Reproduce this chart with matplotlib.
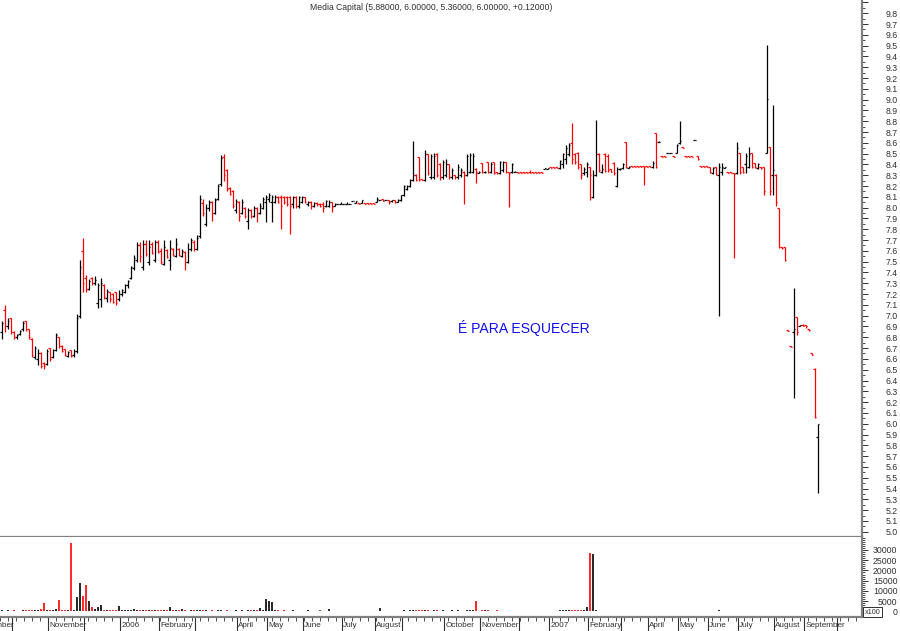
import matplotlib
matplotlib.use("Agg")
import matplotlib.pyplot as plt
import numpy as np
from matplotlib.ticker import FixedLocator, FuncFormatter

plt.rcParams["font.family"] = ["Liberation Sans", "DejaVu Sans"]

TITLE = "Media Capital (5.88000, 6.00000, 5.36000, 6.00000, +0.12000)"
NOTE = "É PARA ESQUECER"

# one bar per slot, Sep 2005 .. Sep 2007 (rows of 10)
OPENS = [
    6.85, 7.05, 6.90, 6.98, 6.85, 6.80, 6.83, 6.88, 6.95, 6.88,
    6.78, 6.62, 6.60, 6.65, 6.56, 6.55, 6.70, 6.62, 6.68, 6.80,
    6.72, 6.69, 6.63, 6.68, 6.64, 6.67, 7.00, 7.60, 7.35, 7.25,
    7.35, 7.30, 7.12, 7.15, 7.28, 7.16, 7.22, 7.20, 7.22, 7.15,
    7.20, 7.22, 7.28, 7.35, 7.44, 7.52, 7.65, 7.45, 7.66, 7.50,
    7.66, 7.52, 7.68, 7.60, 7.48, 7.61, 7.52, 7.62, 7.55, 7.62,
    7.55, 7.59, 7.50, 7.62, 7.68, 7.62, 7.74, 8.04, 7.85, 8.00,
    8.05, 7.95, 8.08, 8.22, 8.47, 8.35, 8.18, 8.15, 7.98, 8.05,
    7.95, 8.00, 7.88, 7.98, 7.92, 8.00, 7.95, 8.00, 8.05, 8.08,
    8.05, 8.05, 8.10, 8.10, 8.10, 8.10, 8.10, 8.03, 8.10, 8.02,
    8.05, 8.10, 8.03, 8.05, 8.02, 8.04, 8.03, 8.03, 8.02, 8.02,
    8.05, 8.02, 8.03, 8.03, 8.03, 8.03, 8.03, 8.06, 8.04, 8.04,
    8.04, 8.04, 8.04, 8.04, 8.04, 8.05, 8.07, 8.08, 8.07, 8.07,
    8.06, 8.07, 8.05, 8.07, 8.12, 8.17, 8.20, 8.26, 8.30, 8.47,
    8.27, 8.26, 8.50, 8.28, 8.28, 8.50, 8.40, 8.28, 8.30, 8.40,
    8.28, 8.30, 8.28, 8.30, 8.33, 8.30, 8.33, 8.33, 8.36, 8.32,
    8.41, 8.33, 8.42, 8.33, 8.42, 8.33, 8.32, 8.35, 8.42, 8.33,
    8.33, 8.33, 8.33, 8.33, 8.33, 8.33, 8.33, 8.33, 8.33, 8.33,
    8.33, 8.36, 8.36, 8.38, 8.38, 8.38, 8.37, 8.40, 8.45, 8.50,
    8.60, 8.50, 8.51, 8.40, 8.32, 8.33, 8.38, 8.10, 8.30, 8.50,
    8.33, 8.50, 8.48, 8.36, 8.41, 8.20, 8.36, 8.37, 8.61, 8.37,
    8.39, 8.39, 8.39, 8.39, 8.39, 8.39, 8.39, 8.38, 8.69, 8.61,
    8.48, 8.48, 8.51, 8.51, 8.48, 8.51, 8.60, 8.56, 8.48, 8.48,
    8.48, 8.63, 8.48, 8.39, 8.39, 8.39, 8.38, 8.32, 8.38, 8.30,
    8.33, 8.37, 8.33, 8.33, 8.32, 8.32, 8.51, 8.38, 8.40, 8.38,
    8.51, 8.41, 8.37, 8.38, 8.38, 8.51, 8.56, 8.30, 8.30, 8.00,
    7.64, 7.64, 6.87, 6.72, 6.85, 6.99, 6.90, 6.91, 6.91, 6.88,
    6.65, 6.51, 5.88,
]
HIGHS = [
    6.95, 7.10, 6.98, 6.98, 6.86, 6.83, 6.87, 6.95, 6.95, 6.88,
    6.79, 6.72, 6.69, 6.66, 6.57, 6.69, 6.70, 6.69, 6.84, 6.80,
    6.73, 6.69, 6.67, 6.68, 6.69, 7.02, 7.52, 7.72, 7.38, 7.34,
    7.36, 7.37, 7.30, 7.35, 7.29, 7.25, 7.22, 7.21, 7.22, 7.24,
    7.25, 7.29, 7.33, 7.46, 7.56, 7.68, 7.68, 7.70, 7.70, 7.70,
    7.68, 7.70, 7.70, 7.63, 7.70, 7.62, 7.70, 7.63, 7.72, 7.63,
    7.62, 7.60, 7.67, 7.72, 7.70, 7.75, 8.12, 8.08, 8.03, 8.07,
    8.06, 8.09, 8.22, 8.49, 8.50, 8.36, 8.19, 8.16, 8.08, 8.06,
    8.08, 8.01, 8.00, 7.99, 8.02, 8.01, 8.04, 8.10, 8.12, 8.14,
    8.12, 8.12, 8.11, 8.12, 8.11, 8.11, 8.11, 8.11, 8.11, 8.11,
    8.11, 8.10, 8.06, 8.06, 8.05, 8.05, 8.04, 8.05, 8.07, 8.07,
    8.05, 8.04, 8.03, 8.05, 8.03, 8.05, 8.03, 8.06, 8.06, 8.04,
    8.07, 8.04, 8.04, 8.04, 8.04, 8.10, 8.07, 8.08, 8.07, 8.07,
    8.07, 8.07, 8.08, 8.12, 8.21, 8.21, 8.27, 8.62, 8.31, 8.47,
    8.27, 8.53, 8.50, 8.50, 8.51, 8.51, 8.41, 8.44, 8.45, 8.40,
    8.37, 8.30, 8.40, 8.37, 8.34, 8.50, 8.51, 8.51, 8.37, 8.34,
    8.41, 8.34, 8.42, 8.42, 8.42, 8.33, 8.43, 8.43, 8.42, 8.33,
    8.41, 8.34, 8.33, 8.33, 8.33, 8.33, 8.35, 8.33, 8.33, 8.33,
    8.33, 8.37, 8.37, 8.38, 8.38, 8.38, 8.44, 8.51, 8.58, 8.60,
    8.78, 8.51, 8.52, 8.40, 8.38, 8.42, 8.38, 8.35, 8.81, 8.51,
    8.40, 8.51, 8.50, 8.36, 8.42, 8.38, 8.37, 8.41, 8.61, 8.39,
    8.39, 8.39, 8.39, 8.39, 8.39, 8.39, 8.39, 8.43, 8.69, 8.62,
    8.48, 8.48, 8.51, 8.51, 8.48, 8.59, 8.80, 8.56, 8.48, 8.48,
    8.48, 8.63, 8.48, 8.39, 8.39, 8.39, 8.38, 8.38, 8.38, 8.41,
    8.41, 8.38, 8.33, 8.33, 8.32, 8.61, 8.51, 8.38, 8.51, 8.56,
    8.51, 8.41, 8.41, 8.38, 8.38, 9.51, 8.56, 8.95, 8.31, 8.00,
    7.64, 7.64, 6.87, 6.72, 7.26, 6.99, 6.91, 6.92, 6.91, 6.88,
    6.65, 6.52, 6.00,
]
LOWS = [
    6.78, 6.85, 6.88, 6.83, 6.78, 6.78, 6.82, 6.86, 6.86, 6.78,
    6.62, 6.60, 6.54, 6.52, 6.51, 6.54, 6.58, 6.61, 6.67, 6.70,
    6.66, 6.63, 6.62, 6.62, 6.62, 6.65, 6.98, 7.22, 7.22, 7.24,
    7.28, 7.28, 7.07, 7.08, 7.15, 7.13, 7.13, 7.12, 7.10, 7.14,
    7.18, 7.21, 7.26, 7.34, 7.42, 7.50, 7.50, 7.42, 7.55, 7.47,
    7.57, 7.50, 7.58, 7.48, 7.47, 7.53, 7.42, 7.55, 7.54, 7.55,
    7.54, 7.42, 7.49, 7.60, 7.60, 7.61, 7.72, 7.92, 7.83, 7.97,
    7.88, 7.94, 8.07, 8.20, 8.25, 8.15, 8.12, 8.00, 7.95, 7.88,
    7.94, 7.90, 7.80, 7.90, 7.91, 7.87, 7.94, 7.99, 7.87, 8.05,
    7.87, 8.04, 8.04, 7.80, 8.03, 8.02, 7.76, 8.00, 8.00, 8.00,
    8.04, 8.04, 8.02, 7.99, 8.01, 8.02, 8.01, 7.96, 8.01, 8.01,
    7.96, 8.02, 8.03, 8.03, 8.03, 8.03, 8.03, 8.06, 8.04, 8.03,
    8.04, 8.03, 8.03, 8.03, 8.03, 8.05, 8.07, 8.06, 8.07, 8.03,
    8.05, 8.04, 8.05, 8.06, 8.11, 8.16, 8.19, 8.25, 8.25, 8.25,
    8.26, 8.25, 8.30, 8.27, 8.27, 8.28, 8.26, 8.27, 8.28, 8.27,
    8.27, 8.27, 8.27, 8.28, 8.03, 8.29, 8.32, 8.32, 8.23, 8.32,
    8.32, 8.32, 8.32, 8.32, 8.31, 8.31, 8.31, 8.33, 8.32, 8.01,
    8.32, 8.33, 8.32, 8.32, 8.32, 8.32, 8.32, 8.32, 8.32, 8.32,
    8.32, 8.36, 8.36, 8.37, 8.37, 8.37, 8.36, 8.37, 8.40, 8.48,
    8.40, 8.40, 8.36, 8.27, 8.30, 8.28, 8.07, 8.09, 8.29, 8.33,
    8.32, 8.33, 8.33, 8.33, 8.30, 8.19, 8.35, 8.36, 8.37, 8.37,
    8.38, 8.38, 8.38, 8.38, 8.21, 8.38, 8.38, 8.37, 8.37, 8.61,
    8.47, 8.47, 8.51, 8.51, 8.47, 8.51, 8.59, 8.55, 8.47, 8.47,
    8.47, 8.63, 8.44, 8.38, 8.38, 8.38, 8.32, 8.31, 8.30, 7.00,
    8.30, 8.37, 8.32, 8.32, 7.53, 8.31, 8.31, 8.32, 8.32, 8.37,
    8.37, 8.37, 8.36, 8.36, 8.12, 8.51, 8.12, 8.12, 8.02, 7.63,
    7.62, 7.51, 6.86, 6.71, 6.24, 6.82, 6.90, 6.90, 6.89, 6.86,
    6.64, 6.05, 5.36,
]
CLOSES = [
    6.93, 6.90, 6.95, 6.85, 6.80, 6.82, 6.86, 6.93, 6.88, 6.80,
    6.64, 6.70, 6.65, 6.53, 6.53, 6.67, 6.60, 6.68, 6.82, 6.72,
    6.67, 6.64, 6.66, 6.63, 6.67, 6.98, 7.45, 7.30, 7.25, 7.32,
    7.30, 7.33, 7.28, 7.30, 7.17, 7.23, 7.15, 7.13, 7.12, 7.20,
    7.24, 7.28, 7.32, 7.45, 7.53, 7.65, 7.55, 7.66, 7.57, 7.64,
    7.58, 7.68, 7.59, 7.50, 7.64, 7.54, 7.63, 7.56, 7.66, 7.56,
    7.60, 7.50, 7.62, 7.70, 7.62, 7.72, 8.08, 7.95, 8.00, 8.05,
    7.95, 8.07, 8.20, 8.46, 8.30, 8.17, 8.13, 8.02, 8.06, 7.92,
    8.05, 7.92, 7.98, 7.92, 8.00, 7.95, 8.02, 8.08, 8.10, 8.12,
    8.10, 8.10, 8.05, 8.02, 8.05, 8.03, 8.02, 8.10, 8.02, 8.10,
    8.10, 8.05, 8.05, 8.02, 8.04, 8.03, 8.02, 8.00, 8.06, 8.05,
    8.01, 8.03, 8.03, 8.03, 8.03, 8.03, 8.03, 8.06, 8.06, 8.03,
    8.07, 8.03, 8.03, 8.03, 8.03, 8.08, 8.07, 8.06, 8.07, 8.05,
    8.07, 8.05, 8.07, 8.12, 8.20, 8.20, 8.26, 8.30, 8.26, 8.26,
    8.26, 8.50, 8.32, 8.48, 8.48, 8.30, 8.28, 8.42, 8.40, 8.28,
    8.35, 8.28, 8.38, 8.35, 8.30, 8.48, 8.49, 8.48, 8.33, 8.33,
    8.33, 8.33, 8.33, 8.40, 8.32, 8.32, 8.42, 8.42, 8.33, 8.32,
    8.40, 8.33, 8.32, 8.32, 8.32, 8.32, 8.32, 8.32, 8.32, 8.32,
    8.32, 8.37, 8.37, 8.37, 8.37, 8.37, 8.43, 8.50, 8.55, 8.58,
    8.45, 8.42, 8.38, 8.30, 8.36, 8.40, 8.30, 8.30, 8.50, 8.35,
    8.36, 8.34, 8.35, 8.33, 8.32, 8.36, 8.36, 8.40, 8.38, 8.38,
    8.38, 8.38, 8.38, 8.38, 8.38, 8.38, 8.38, 8.41, 8.38, 8.61,
    8.47, 8.47, 8.51, 8.51, 8.47, 8.58, 8.62, 8.55, 8.47, 8.47,
    8.47, 8.63, 8.45, 8.38, 8.38, 8.38, 8.33, 8.37, 8.31, 8.38,
    8.38, 8.38, 8.32, 8.32, 8.31, 8.55, 8.33, 8.33, 8.48, 8.50,
    8.38, 8.38, 8.40, 8.37, 8.15, 9.01, 8.15, 8.35, 8.05, 7.64,
    7.63, 7.52, 6.86, 6.71, 6.88, 6.85, 6.91, 6.90, 6.90, 6.87,
    6.64, 6.06, 6.00,
]
# volume, in hundreds
VOLUMES = [
    500, 400, 600, 300, 500, 400, 300, 500, 700, 600,
    900, 800, 700, 1200, 4000, 600, 800, 500, 1300, 5400,
    700, 800, 600, 33500, 900, 7000, 13800, 7400, 13000, 4900,
    2000, 1200, 2000, 3000, 800, 900, 700, 600, 500, 2500,
    900, 700, 800, 600, 1000, 700, 600, 500, 700, 600,
    500, 800, 600, 700, 500, 600, 2000, 700, 500, 600,
    1000, 500, 400, 600, 500, 700, 800, 600, 500, 400,
    500, 400, 600, 500, 400, 500, 300, 400, 500, 400,
    500, 400, 600, 500, 700, 800, 1500, 900, 5900, 5000,
    4800, 600, 500, 400, 500, 400, 300, 500, 400, 300,
    400, 300, 500, 400, 300, 400, 500, 300, 400, 1000,
    400, 300, 300, 300, 300, 300, 300, 300, 300, 400,
    300, 300, 300, 300, 300, 400, 1500, 300, 300, 300,
    300, 300, 400, 300, 500, 400, 600, 800, 500, 700,
    500, 600, 500, 400, 600, 500, 400, 500, 400, 300,
    600, 400, 500, 300, 400, 800, 500, 600, 5000, 400,
    800, 600, 500, 400, 300, 500, 400, 300, 400, 300,
    400, 300, 300, 300, 300, 300, 300, 300, 300, 300,
    300, 400, 300, 300, 300, 400, 500, 600, 700, 800,
    900, 700, 600, 500, 700, 2000, 28500, 28000, 600, 400,
    400, 300, 400, 300, 400, 300, 400, 300, 300, 0,
    400, 0, 400, 0, 400, 0, 0, 0, 400, 0,
    0, 400, 0, 0, 400, 0, 400, 0, 0, 400,
    400, 300, 400, 300, 400, 300, 400, 300, 400, 500,
    400, 300, 400, 300, 400, 300, 400, 300, 400, 300,
    300, 400, 300, 400, 300, 400, 300, 400, 300, 0,
    400, 300, 0, 0, 400, 0, 300, 0, 0, 0,
    0, 300, 0,
]

MONTH_STARTS = [-9, 4, 16, 28, 40, 53, 65, 79, 89, 101, 114, 125, 134,
                148, 160, 173, 183, 196, 207, 216, 226, 236, 246, 258, 268, 279]
MONTH_LABELS = ["September", "October", "November", "December", "2006",
                "February", "March", "April", "May", "June", "July", "August",
                "September", "October", "November", "December", "2007",
                "February", "March", "April", "May", "June", "July", "August",
                "September", "October"]
SHOW_LABEL = [1, 0, 1, 0, 1, 1, 0, 1, 1, 1, 1, 1, 0,
              1, 1, 0, 1, 1, 0, 1, 1, 1, 1, 1, 1, 0]

PRICE_TICKS = np.round(np.arange(5.0, 9.95, 0.1), 1)
VOL_TICKS = [0, 5000, 10000, 15000, 20000, 25000, 30000]

AXIS_GREY = "#808080"
TEXT_COL = "#303030"

o = np.array(OPENS)
h = np.array(HIGHS)
l = np.array(LOWS)
c = np.array(CLOSES)
v = np.array(VOLUMES)
assert len(o) == len(h) == len(l) == len(c) == len(v)
x = np.arange(len(c))
cols = np.where(c >= o, "black", "red")

W, H = 900, 631
fig = plt.figure(figsize=(W / 100, H / 100), dpi=100)
fig.patch.set_facecolor("white")
ax = fig.add_axes([0, 1 - 537 / H, 862 / W, 537 / H])
axv = fig.add_axes([0, 1 - 617 / H, 862 / W, 80 / H], sharex=ax)

# price bars
ax.vlines(x, l, h, colors=cols, lw=0.9)
ax.hlines(o, x - 0.5, x, colors=cols, lw=0.9)
ax.hlines(c, x, x + 0.5, colors=cols, lw=0.9)
# volume bars
axv.vlines(x, 0, v, colors=cols, lw=1.2)

ax.set_xlim(-0.5, 286.83)
ax.set_ylim(4.951, 9.923)
axv.set_ylim(-2700, 36300)

for a in (ax, axv):
    a.set_facecolor("white")
    a.spines["left"].set_visible(False)
    a.spines["top"].set_visible(False)
    for s in ("right", "bottom"):
        a.spines[s].set_color(AXIS_GREY)
        a.spines[s].set_linewidth(1.6)
    a.yaxis.tick_right()
    a.tick_params(axis="y", which="major", direction="out", length=4,
                  width=0.7, color=TEXT_COL, labelsize=6.3,
                  labelcolor=TEXT_COL, pad=21.5)
    a.tick_params(axis="y", which="minor", direction="out", length=2,
                  width=0.6, color=TEXT_COL)

# price scale
ax.yaxis.set_major_locator(FixedLocator(PRICE_TICKS))
ax.yaxis.set_minor_locator(FixedLocator(np.round(PRICE_TICKS + 0.05, 2)))
ax.yaxis.set_major_formatter(
    FuncFormatter(lambda val, pos: "" if val > 9.85 else f"{val:.1f}"))
ax.tick_params(axis="x", which="both", bottom=False, labelbottom=False)

# volume scale
axv.yaxis.set_major_locator(FixedLocator(VOL_TICKS))
axv.yaxis.set_minor_locator(FixedLocator(np.arange(0, 36001, 1000)))
axv.yaxis.set_major_formatter(FuncFormatter(lambda val, pos: f"{int(val)}"))

for a in (ax, axv):
    for lbl in a.get_yticklabels():
        lbl.set_horizontalalignment("right")

# month axis
axv.xaxis.set_major_locator(FixedLocator([m - 0.5 for m in MONTH_STARTS]))
axv.xaxis.set_minor_locator(FixedLocator(np.arange(-0.5, 287, 8 / 3)))
axv.tick_params(axis="x", which="major", direction="out", length=10,
                width=0.8, color=TEXT_COL, labelbottom=False)
axv.tick_params(axis="x", which="minor", direction="out", length=3,
                width=0.6, color=TEXT_COL)
for m, lab, show in zip(MONTH_STARTS, MONTH_LABELS, SHOW_LABEL):
    if show:
        axv.text(m - 0.5 + 0.4, -0.06, lab, transform=axv.get_xaxis_transform(),
                 ha="left", va="top", fontsize=5.9, color=TEXT_COL,
                 clip_on=False)

ax.text(0.5, 1 - 8 / 537, TITLE, transform=ax.transAxes, ha="center",
        va="center", fontsize=6.2, color=TEXT_COL)
ax.text(152.2, 6.886, NOTE, ha="left", va="center", fontsize=10.1,
        color="#1010f0")

fig.text(872.5 / W, 1 - 612 / H, "x100", fontsize=5.2, ha="center",
         va="center", color=TEXT_COL,
         bbox=dict(boxstyle="square,pad=0.25", fc="white", ec=TEXT_COL,
                   lw=0.7))

fig.savefig("out.png", dpi=100, facecolor="white")
